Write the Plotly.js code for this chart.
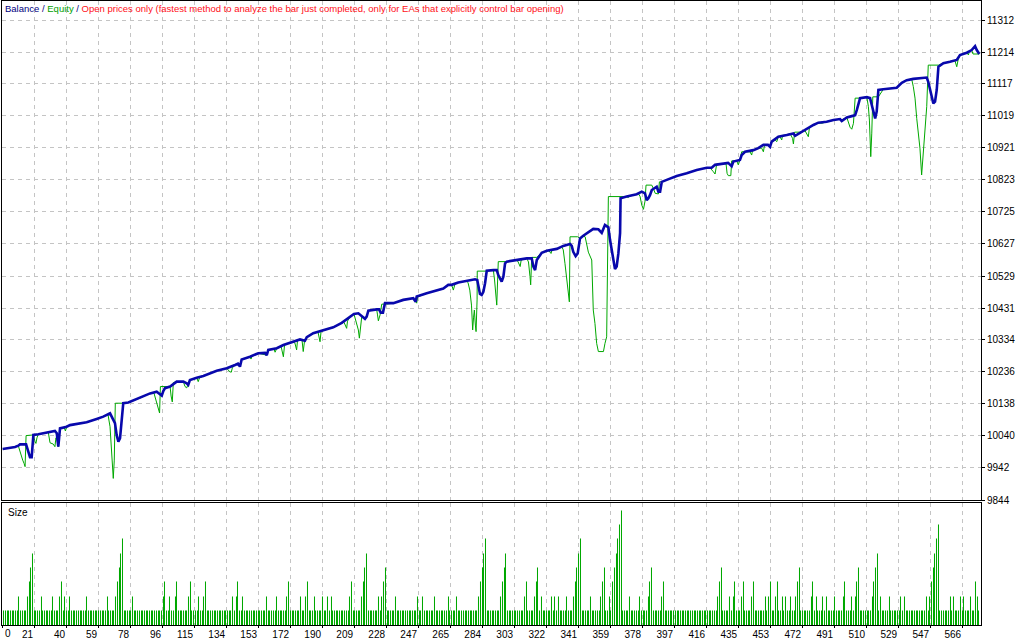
<!DOCTYPE html>
<html>
<head>
<meta charset="utf-8">
<script src="https://cdn.plot.ly/plotly-3.0.1.min.js"></script>
<style>
  html, body { margin: 0; padding: 0; background: #ffffff; }
  #chart { width: 1024px; height: 640px; }
</style>
</head>
<body>
<div id="chart"></div>
<script>
// ---------------- DATA ----------------
const balanceTrades = [0.4,7.7,9.6,10.6,14.2,15.5,16.5,17.5,18.1,18.5,21.4,27.3,31.2,32.3,33.2,34.2,38.1,40.1,46.0,49.9,55.8,59.7,63.7,66.6,67.6,68.6,69.6,70.6,71.5,74.5,81.4,87.3,91.2,94.2,95.1,96.1,99.1,103.0,106.9,108.9,109.8,110.8,114.8,118.7,126.6,132.5,137.4,139.1,140.3,141.3,146.2,151.1,155.1,156.1,157.0,162.0,165.9,171.7,175.7,178.6,179.7,183.5,189.4,195.3,200.3,205.2,207.5,210.1,212.1,214.0,215.0,216.0,220.9,222.3,223.3,224.6,225.8,230.7,236.6,242.5,243.9,244.5,250.4,256.3,260.2,263.1,265.1,269.0,274.0,278.9,280.2,280.8,281.8,282.8,283.8,284.8,285.8,289.7,291.7,292.6,294.6,295.6,296.6,297.6,303.5,306.4,309.4,312.3,313.3,314.3,315.3,318.2,321.2,327.1,330.9,334.9,335.9,336.8,338.2,339.4,340.8,342.7,345.7,348.6,351.6,353.6,355.5,357.5,358.5,359.5,360.4,361.4,362.4,363.4,364.4,364.7,368.3,370.3,374.2,377.2,379.1,380.1,381.1,382.1,383.1,386.0,387.0,388.0,389.0,391.9,397.8,403.7,409.6,415.5,418.4,420.4,425.3,428.1,430.2,431.2,435.1,436.1,438.1,443.0,445.9,448.9,451.6,452.8,453.8,457.7,462.7,466.6,467.6,470.5,475.4,478.4,481.3,486.2,490.2,494.1,495.1,498.1,501.0,503.0,504.0,505.9,509.9,511.8,512.8,513.8,514.8,515.7,516.7,519.6,527.5,530.5,533.4,537.3,545.2,546.1,547.1,548.1,549.1,550.1,551.1,552.1,555.0,558.9,562.9,564.8,568.8,571.7,573.7,574.7,576.2];
const balanceValues = [10000,10006,10010,10014,10014,9992,9975,9975,10038,10043,10045,10051,10055,10048,10007,10063,10068,10073,10079,10082,10092,10099,10109,10079,10043,10022,10033,10099,10140,10142,10156,10170,10175,10163,10177,10186,10191,10206,10206,10201,10196,10211,10218,10223,10239,10247,10257,10261,10252,10274,10282,10293,10294,10287,10303,10308,10318,10328,10335,10331,10342,10354,10362,10372,10386,10405,10413,10415,10405,10398,10405,10423,10427,10427,10417,10417,10446,10446,10456,10461,10450,10466,10476,10484,10491,10502,10502,10509,10514,10519,10517,10496,10474,10471,10481,10507,10545,10547,10547,10532,10512,10527,10568,10573,10578,10580,10583,10583,10558,10547,10578,10600,10606,10612,10621,10627,10621,10603,10590,10598,10644,10652,10663,10673,10672,10661,10685,10678,10639,10609,10578,10550,10558,10598,10660,10767,10772,10774,10779,10787,10782,10761,10767,10777,10792,10802,10787,10787,10817,10823,10835,10843,10853,10860,10860,10869,10874,10875,10865,10879,10884,10899,10909,10914,10920,10930,10930,10924,10940,10955,10960,10965,10958,10967,10981,10991,10998,11001,11006,11009,11003,11014,11018,11021,11037,11073,11076,11073,11052,11032,11011,11032,11098,11100,11105,11120,11128,11132,11136,11123,11098,11073,11057,11062,11098,11169,11180,11184,11190,11205,11212,11220,11232,11220,11208];

const equityTrades = [0.4,7.7,9.6,11.0,12.2,13.0,13.6,14.2,18.1,18.5,
19.5,20.0,20.6,21.4,27.3,28.3,30.2,31.2,31.8,32.4,
33.2,34.2,36.6,37.4,38.1,40.1,46.0,49.9,55.8,59.7,
62.5,63.7,64.7,65.3,65.6,66.2,66.8,71.5,74.5,81.4,
87.3,89.6,90.8,92.0,92.9,93.4,99.1,99.7,100.4,101.0,
103.0,106.9,107.9,108.9,109.8,110.8,114.8,115.7,116.4,118.7,
126.6,132.5,134.3,135.2,135.8,137.4,139.1,140.3,141.3,146.2,
146.8,147.4,151.1,155.1,156.1,157.0,160.4,161.0,162.0,164.5,
165.9,166.6,171.7,172.7,173.7,174.2,175.7,176.9,177.6,178.4,
179.7,183.5,186.3,187.5,188.1,189.4,195.3,201.6,203.2,203.7,
205.2,207.5,209.1,210.1,210.7,211.2,212.1,214.0,215.0,216.0,
220.9,221.4,221.9,222.9,223.9,226.8,230.7,236.6,242.5,244.5,
245.0,250.4,256.3,260.2,263.1,265.1,266.1,267.1,269.0,274.0,
274.8,275.8,276.8,277.5,278.0,278.5,279.1,279.5,280.1,280.2,
285.8,289.7,290.4,291.0,291.7,292.6,297.6,303.5,304.3,305.5,
306.1,309.4,310.4,311.3,311.7,312.3,315.3,318.2,321.2,322.5,
323.7,324.3,327.1,330.0,330.9,331.9,332.9,333.9,334.5,334.9,
339.4,340.8,342.7,343.8,345.7,347.7,348.6,349.6,350.6,351.6,
354.6,355.5,356.5,357.5,364.4,368.3,369.1,370.3,374.2,375.3,
376.2,377.2,378.2,379.1,379.7,383.1,384.1,385.1,387.0,387.6,
389.0,391.9,397.8,403.7,409.6,415.5,417.4,419.4,420.4,421.4,
424.3,425.3,426.9,427.5,428.2,429.7,430.2,433.2,434.1,435.1,
436.1,441.0,442.0,442.5,443.0,445.9,447.9,448.9,449.6,451.6,
452.8,453.8,455.8,456.8,457.7,458.7,459.7,460.2,462.7,464.6,
466.1,466.6,467.3,470.5,473.5,475.4,476.0,478.4,481.3,483.3,
486.2,490.2,494.1,495.1,495.6,498.1,499.0,500.0,501.0,502.0,
503.0,505.9,509.9,510.8,511.4,511.8,512.2,512.8,513.4,516.7,
519.6,527.5,530.5,533.4,536.3,537.3,538.3,539.3,540.2,541.2,
542.2,543.2,544.2,545.2,546.1,552.1,555.0,558.9,561.8,562.9,
563.7,564.8,568.8,569.8,570.2,571.7,572.5,576.2];
const equityValues = [10000,10006,10010,9982,9966,9956,9946,10041,10041,10043,
10022,10017,10034,10045,10051,10019,10015,10007,10034,10028,
10007,10063,10066,10055,10068,10073,10079,10082,10092,10099,
10105,10068,9997,9956,9910,9966,10140,10140,10142,10156,
10170,10171,10150,10125,10110,10191,10191,10162,10144,10203,
10206,10206,10191,10187,10196,10211,10218,10206,10217,10223,
10239,10247,10236,10235,10248,10257,10261,10252,10274,10282,
10275,10284,10293,10287,10287,10303,10306,10296,10308,10315,
10282,10318,10328,10324,10303,10330,10335,10333,10298,10332,
10342,10354,10358,10328,10359,10362,10372,10388,10369,10391,
10405,10413,10384,10364,10339,10364,10405,10398,10405,10423,
10427,10410,10392,10410,10443,10443,10446,10456,10461,10446,
10465,10476,10484,10491,10502,10502,10486,10505,10509,10514,
10508,10486,10440,10364,10401,10425,10379,10359,10456,10544,
10544,10547,10517,10471,10440,10573,10573,10578,10572,10558,
10578,10583,10572,10527,10502,10586,10586,10600,10606,10606,
10598,10609,10612,10619,10609,10568,10527,10486,10450,10649,
10649,10644,10652,10649,10602,10578,10425,10384,10323,10298,
10298,10323,10343,10772,10772,10772,10769,10774,10779,10780,
10772,10746,10733,10758,10807,10807,10796,10782,10780,10817,
10817,10823,10835,10843,10853,10860,10860,10848,10841,10872,
10872,10874,10872,10843,10836,10836,10881,10881,10869,10884,
10909,10909,10899,10913,10914,10920,10920,10909,10930,10930,
10924,10940,10945,10940,10955,10955,10945,10959,10960,10965,
10950,10933,10969,10969,10973,10955,10981,10991,10998,10996,
11001,11006,11009,11000,11008,11014,10996,10984,10978,10996,
11073,11073,11076,11047,11006,10945,10894,10966,11077,11077,
11100,11105,11120,11128,11132,11108,11073,11011,10965,10920,
10838,10914,10986,11047,11174,11174,11180,11184,11188,11169,
11190,11205,11212,11205,11214,11220,11208,11208];

// Size panel: every trade 1..576 has the base lot, except these larger ones
const tradeCount = 576;
const baseLot = 0.01;
const sizeSpikeTrades = [10,15,16,17,18,23,30,34,35,37,40,50,62,67,68,69,70,71,77,95,96,99,102,103,110,111,116,119,120,136,138,139,142,156,162,168,169,176,179,180,184,189,192,194,
205,206,212,213,214,215,222,224,225,226,232,245,248,255,263,268,281,282,283,284,285,294,295,296,297,308,309,314,315,316,318,324,326,328,333,337,338,339,340,341,347,353,354,355,358,360,361,362,363,364,365,370,376,381,382,383,389,390,
422,423,424,429,431,432,436,437,442,443,450,452,453,456,457,460,462,465,468,469,470,477,478,480,484,486,491,496,497,501,503,504,505,513,514,515,516,518,523,530,532,545,547,548,549,550,551,552,559,561,565,567,571,574,575];
const sizeSpikeLots = [0.02,0.02,0.03,0.04,0.05,0.02,0.02,0.02,0.03,0.02,0.02,0.02,0.02,0.02,0.03,0.04,0.05,0.06,0.02,0.02,0.03,0.02,0.02,0.03,0.02,0.03,0.02,0.02,0.03,0.02,0.02,0.03,0.02,0.02,0.02,0.02,0.03,0.02,0.02,0.03,0.02,0.02,0.02,0.02,
0.02,0.03,0.02,0.03,0.04,0.05,0.02,0.02,0.03,0.04,0.02,0.02,0.02,0.02,0.02,0.02,0.02,0.03,0.04,0.05,0.06,0.02,0.03,0.04,0.05,0.02,0.03,0.02,0.03,0.04,0.02,0.02,0.02,0.02,0.02,0.02,0.03,0.04,0.05,0.06,0.02,0.02,0.03,0.04,0.02,0.03,0.04,0.05,0.06,0.07,0.08,0.02,0.02,0.02,0.03,0.04,0.02,0.03,
0.02,0.03,0.04,0.02,0.02,0.03,0.02,0.03,0.02,0.03,0.02,0.02,0.03,0.02,0.03,0.02,0.02,0.02,0.02,0.03,0.04,0.02,0.03,0.02,0.02,0.02,0.02,0.02,0.03,0.02,0.02,0.03,0.04,0.02,0.03,0.04,0.05,0.02,0.02,0.02,0.02,0.02,0.02,0.03,0.04,0.05,0.06,0.07,0.02,0.02,0.02,0.02,0.02,0.03,0.02];

// Axis labels as printed in the picture
const xTickLabels = ['0','21','40','59','78','96','115','134','153','172','190','209','228','247','265','284','303','322','341','359','378','397','416','435','453','472','491','510','529','547','566'];
const yTickValues = [9844,9942,10040,10138,10236,10334,10431,10529,10627,10725,10823,10921,11019,11117,11214,11312];

// ---------------- BUILD ----------------
const sizeTrades = [];
const sizeLots = [];
for (let t = 1; t <= tradeCount; t++) { sizeTrades.push(t); sizeLots.push(baseLot); }
sizeSpikeTrades.forEach((t, i) => { sizeLots[t - 1] = sizeSpikeLots[i]; });

const X_MAX = 577.2;                          // visible trade range of the tester window
const xGridStep = X_MAX / 30.59;              // spacing of the vertical grid (one per label)
const xTickVals = xTickLabels.map((_, i) => i * xGridStep);
const xTickText = xTickLabels.map((s, i) => (i === 0 ? '' : s));

const FONT = 'Liberation Sans, Arial, sans-serif';
const GRID = '#c4c4c4';
const DASH = '4px,4px';
const GREEN = '#00a800';

const traces = [
  { type: 'scatter', mode: 'lines', x: equityTrades, y: equityValues, xaxis: 'x', yaxis: 'y',
    line: { color: GREEN, width: 1 }, name: 'Equity', hoverinfo: 'skip' },
  { type: 'scatter', mode: 'lines', x: balanceTrades, y: balanceValues, xaxis: 'x', yaxis: 'y',
    line: { color: '#0808ac', width: 2.6 }, name: 'Balance', hoverinfo: 'skip' },
  { type: 'bar', x: sizeTrades, y: sizeLots, xaxis: 'x2', yaxis: 'y2', width: X_MAX / 979,
    marker: { color: GREEN, line: { width: 0.02, color: GREEN } }, name: 'Size', hoverinfo: 'skip' }
];

const title = '<span style="color:#000080">Balance</span><span style="color:#000080"> / </span>' +
  '<span style="color:#00a000">Equity</span><span style="color:#000080"> / </span>' +
  '<span style="color:#ff1020">Open prices only (fastest method to analyze the bar just completed, only for EAs that explicitly control bar opening)</span>';

const layout = {
  width: 1024, height: 640,
  margin: { l: 2, r: 43, t: 1, b: 15, pad: 0 },
  paper_bgcolor: '#ffffff', plot_bgcolor: '#ffffff',
  showlegend: false, hovermode: false, bargap: 0,
  font: { family: FONT, size: 10, color: '#000000' },
  title: { text: title, font: { family: FONT, size: 9.5 }, xref: 'container', yref: 'container',
           x: 5 / 1024, xanchor: 'left', y: 1 - 9 / 640, yanchor: 'middle', pad: { t: 0, b: 0, l: 0, r: 0 } },
  xaxis: {
    domain: [0, 1], anchor: 'y', range: [0, X_MAX],
    tickmode: 'array', tickvals: xTickVals, showticklabels: false, ticks: '',
    showgrid: true, gridcolor: GRID, griddash: DASH, gridwidth: 1, zeroline: false,
    showline: true, mirror: true, linecolor: '#000000', linewidth: 1
  },
  yaxis: {
    domain: [125 / 624, 1], anchor: 'x', range: [9844, 11370.1], side: 'right',
    tickmode: 'array', tickvals: yTickValues, ticktext: yTickValues.map(String),
    ticks: 'outside', ticklen: 3, tickcolor: '#000000', tickwidth: 1,
    tickfont: { family: FONT, size: 10, color: '#000000' },
    showgrid: true, gridcolor: GRID, griddash: DASH, gridwidth: 1, zeroline: false,
    showline: true, mirror: true, linecolor: '#000000', linewidth: 1
  },
  xaxis2: {
    domain: [0, 1], anchor: 'y2', matches: 'x', range: [0, X_MAX],
    tickmode: 'array', tickvals: xTickVals, ticktext: xTickText,
    ticklabelposition: 'outside left', ticks: 'outside', ticklen: 2, tickcolor: '#000000',
    tickfont: { family: FONT, size: 10, color: '#000000' },
    showgrid: true, gridcolor: GRID, griddash: DASH, gridwidth: 1, zeroline: false,
    showline: true, mirror: true, linecolor: '#000000', linewidth: 1
  },
  yaxis2: {
    domain: [0, 122.5 / 624], anchor: 'x2', range: [0, 0.0853],
    showticklabels: false, ticks: '', showgrid: false, zeroline: false,
    showline: true, mirror: true, linecolor: '#000000', linewidth: 1
  },
  annotations: [
    { text: 'Size', xref: 'paper', yref: 'paper', x: 0, y: 122.5 / 624, xanchor: 'left', yanchor: 'top',
      xshift: 4, yshift: -2, showarrow: false, font: { family: FONT, size: 10, color: '#000000' } },
    { text: xTickLabels[0], xref: 'x2', yref: 'paper', x: xTickVals[0], y: 0, xanchor: 'left', yanchor: 'top',
      xshift: 1, yshift: -1, showarrow: false, font: { family: FONT, size: 10, color: '#000000' } }
  ]
};

Plotly.newPlot('chart', traces, layout, { displayModeBar: false, responsive: false });
</script>
</body>
</html>
